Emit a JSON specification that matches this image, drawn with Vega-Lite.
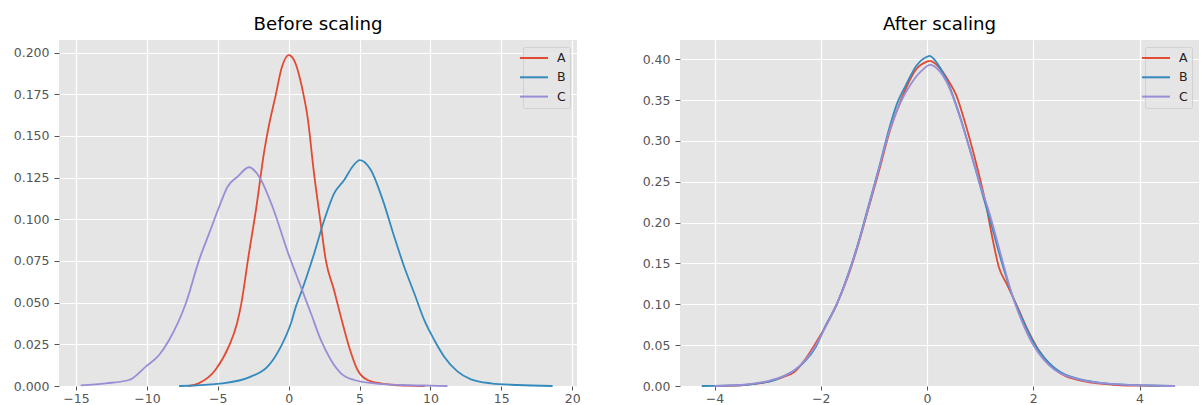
{
  "$schema": "https://vega.github.io/schema/vega-lite/v6.json",
  "padding": {"left": 13, "top": 14, "right": 0, "bottom": 0},
  "background": "white",
  "spacing": 61,
  "config": {
    "font": "DejaVu Sans",
    "view": {"fill": "#E5E5E5", "stroke": null},
    "axis": {
      "domain": false, "grid": true, "gridColor": "#FFFFFF", "gridWidth": 1.2,
      "tickColor": "#555555", "tickSize": 5, "tickWidth": 1,
      "labelColor": "#555555", "labelFontSize": 12.5, "labelPadding": 5,
      "labelFlush": false, "labelOverlap": false, "title": null
    },
    "axisX": {"tickSize": 4, "labelPadding": 2},
    "title": {"fontSize": 18.2, "fontWeight": "normal", "color": "#000000", "offset": 6},
    "legend": {
      "orient": "top-right", "offset": 7, "title": null,
      "fillColor": "rgba(229,229,229,0.8)", "strokeColor": "rgba(204,204,204,0.8)",
      "cornerRadius": 2, "padding": 4,
      "symbolType": "M-2.33,0H2.33", "symbolSize": 144, "symbolStrokeWidth": 2,
      "labelFontSize": 12.5, "labelColor": "#222222", "labelOffset": 16, "rowPadding": 5.3
    }
  },
  "datasets": {
    "before": [
      {"series": "A", "x": -7.08, "y": 0.0},
      {"series": "A", "x": -6.35, "y": 0.0016},
      {"series": "A", "x": -5.17, "y": 0.0096},
      {"series": "A", "x": -4.23, "y": 0.0236},
      {"series": "A", "x": -3.64, "y": 0.0376},
      {"series": "A", "x": -3.35, "y": 0.049},
      {"series": "A", "x": -2.82, "y": 0.0785},
      {"series": "A", "x": -2.3, "y": 0.106},
      {"series": "A", "x": -1.71, "y": 0.1415},
      {"series": "A", "x": -1.41, "y": 0.1555},
      {"series": "A", "x": -0.94, "y": 0.1734},
      {"series": "A", "x": -0.47, "y": 0.1914},
      {"series": "A", "x": 0.0, "y": 0.1984},
      {"series": "A", "x": 0.38, "y": 0.1954},
      {"series": "A", "x": 0.98, "y": 0.1775},
      {"series": "A", "x": 1.33, "y": 0.1615},
      {"series": "A", "x": 1.79, "y": 0.1275},
      {"series": "A", "x": 2.26, "y": 0.0975},
      {"series": "A", "x": 2.62, "y": 0.0755},
      {"series": "A", "x": 3.2, "y": 0.0576},
      {"series": "A", "x": 3.68, "y": 0.0416},
      {"series": "A", "x": 4.26, "y": 0.0236},
      {"series": "A", "x": 4.86, "y": 0.0096},
      {"series": "A", "x": 5.56, "y": 0.0036},
      {"series": "A", "x": 6.5, "y": 0.0016},
      {"series": "A", "x": 7.5, "y": 0.0006},
      {"series": "A", "x": 8.5, "y": 0.0002},
      {"series": "A", "x": 9.6, "y": 0.0},
      {"series": "B", "x": -7.73, "y": 0.0},
      {"series": "B", "x": -4.66, "y": 0.0016},
      {"series": "B", "x": -2.67, "y": 0.0056},
      {"series": "B", "x": -1.49, "y": 0.0116},
      {"series": "B", "x": -1.0, "y": 0.017},
      {"series": "B", "x": -0.55, "y": 0.0236},
      {"series": "B", "x": 0.16, "y": 0.0376},
      {"series": "B", "x": 0.51, "y": 0.0476},
      {"series": "B", "x": 0.86, "y": 0.0556},
      {"series": "B", "x": 1.8, "y": 0.0795},
      {"series": "B", "x": 2.51, "y": 0.0995},
      {"series": "B", "x": 3.21, "y": 0.1155},
      {"series": "B", "x": 3.92, "y": 0.1235},
      {"series": "B", "x": 4.5, "y": 0.1315},
      {"series": "B", "x": 5.02, "y": 0.1355},
      {"series": "B", "x": 5.8, "y": 0.1295},
      {"series": "B", "x": 6.6, "y": 0.1125},
      {"series": "B", "x": 7.45, "y": 0.0895},
      {"series": "B", "x": 8.15, "y": 0.0715},
      {"series": "B", "x": 8.86, "y": 0.0556},
      {"series": "B", "x": 9.56, "y": 0.0396},
      {"series": "B", "x": 10.27, "y": 0.0276},
      {"series": "B", "x": 10.97, "y": 0.0176},
      {"series": "B", "x": 11.92, "y": 0.0086},
      {"series": "B", "x": 12.86, "y": 0.004},
      {"series": "B", "x": 14.27, "y": 0.0016},
      {"series": "B", "x": 16.15, "y": 0.0006},
      {"series": "B", "x": 18.62, "y": 0.0},
      {"series": "C", "x": -14.67, "y": 0.0004},
      {"series": "C", "x": -12.9, "y": 0.0016},
      {"series": "C", "x": -11.26, "y": 0.0036},
      {"series": "C", "x": -10.08, "y": 0.0116},
      {"series": "C", "x": -9.14, "y": 0.0186},
      {"series": "C", "x": -8.43, "y": 0.0276},
      {"series": "C", "x": -7.25, "y": 0.0496},
      {"series": "C", "x": -6.32, "y": 0.0755},
      {"series": "C", "x": -5.61, "y": 0.0915},
      {"series": "C", "x": -4.9, "y": 0.1075},
      {"series": "C", "x": -4.31, "y": 0.1195},
      {"series": "C", "x": -3.61, "y": 0.1255},
      {"series": "C", "x": -2.79, "y": 0.1312},
      {"series": "C", "x": -2.08, "y": 0.1255},
      {"series": "C", "x": -1.14, "y": 0.1075},
      {"series": "C", "x": -0.05, "y": 0.08},
      {"series": "C", "x": 0.86, "y": 0.0595},
      {"series": "C", "x": 1.57, "y": 0.0436},
      {"series": "C", "x": 2.27, "y": 0.0276},
      {"series": "C", "x": 2.98, "y": 0.0156},
      {"series": "C", "x": 3.69, "y": 0.0076},
      {"series": "C", "x": 4.62, "y": 0.0036},
      {"series": "C", "x": 6.03, "y": 0.0016},
      {"series": "C", "x": 8.0, "y": 0.0006},
      {"series": "C", "x": 10.0, "y": 0.0002},
      {"series": "C", "x": 11.2, "y": 0.0}
    ],
    "after": [
      {"series": "A", "x": -3.9, "y": 0.0},
      {"series": "A", "x": -3.4, "y": 0.0015},
      {"series": "A", "x": -3.0, "y": 0.005},
      {"series": "A", "x": -2.7, "y": 0.011},
      {"series": "A", "x": -2.5, "y": 0.017},
      {"series": "A", "x": -2.3, "y": 0.032},
      {"series": "A", "x": -2.1, "y": 0.052},
      {"series": "A", "x": -1.9, "y": 0.074},
      {"series": "A", "x": -1.7, "y": 0.1},
      {"series": "A", "x": -1.5, "y": 0.132},
      {"series": "A", "x": -1.3, "y": 0.172},
      {"series": "A", "x": -1.1, "y": 0.218},
      {"series": "A", "x": -0.9, "y": 0.264},
      {"series": "A", "x": -0.7, "y": 0.312},
      {"series": "A", "x": -0.55, "y": 0.34},
      {"series": "A", "x": -0.4, "y": 0.364},
      {"series": "A", "x": -0.2, "y": 0.388},
      {"series": "A", "x": 0.0, "y": 0.397},
      {"series": "A", "x": 0.05, "y": 0.398},
      {"series": "A", "x": 0.2, "y": 0.392},
      {"series": "A", "x": 0.4, "y": 0.374},
      {"series": "A", "x": 0.55, "y": 0.356},
      {"series": "A", "x": 0.7, "y": 0.326},
      {"series": "A", "x": 0.9, "y": 0.279},
      {"series": "A", "x": 1.1, "y": 0.225},
      {"series": "A", "x": 1.25, "y": 0.175},
      {"series": "A", "x": 1.35, "y": 0.146},
      {"series": "A", "x": 1.5, "y": 0.125},
      {"series": "A", "x": 1.7, "y": 0.097},
      {"series": "A", "x": 1.9, "y": 0.068},
      {"series": "A", "x": 2.1, "y": 0.044},
      {"series": "A", "x": 2.3, "y": 0.027},
      {"series": "A", "x": 2.5, "y": 0.016},
      {"series": "A", "x": 2.8, "y": 0.008},
      {"series": "A", "x": 3.1, "y": 0.004},
      {"series": "A", "x": 3.5, "y": 0.0015},
      {"series": "A", "x": 4.0, "y": 0.0004},
      {"series": "A", "x": 4.4, "y": 0.0},
      {"series": "B", "x": -4.24, "y": 0.0},
      {"series": "B", "x": -3.8, "y": 0.0005},
      {"series": "B", "x": -3.4, "y": 0.0015},
      {"series": "B", "x": -3.1, "y": 0.004},
      {"series": "B", "x": -2.9, "y": 0.0067},
      {"series": "B", "x": -2.7, "y": 0.012},
      {"series": "B", "x": -2.5, "y": 0.019},
      {"series": "B", "x": -2.3, "y": 0.03},
      {"series": "B", "x": -2.1, "y": 0.047},
      {"series": "B", "x": -1.9, "y": 0.075},
      {"series": "B", "x": -1.7, "y": 0.1},
      {"series": "B", "x": -1.5, "y": 0.134},
      {"series": "B", "x": -1.3, "y": 0.174},
      {"series": "B", "x": -1.1, "y": 0.221},
      {"series": "B", "x": -0.9, "y": 0.268},
      {"series": "B", "x": -0.7, "y": 0.318},
      {"series": "B", "x": -0.55, "y": 0.348},
      {"series": "B", "x": -0.4, "y": 0.368},
      {"series": "B", "x": -0.2, "y": 0.392},
      {"series": "B", "x": 0.0, "y": 0.403},
      {"series": "B", "x": 0.05, "y": 0.404},
      {"series": "B", "x": 0.2, "y": 0.394},
      {"series": "B", "x": 0.4, "y": 0.37},
      {"series": "B", "x": 0.6, "y": 0.334},
      {"series": "B", "x": 0.8, "y": 0.291},
      {"series": "B", "x": 1.0, "y": 0.245},
      {"series": "B", "x": 1.2, "y": 0.2},
      {"series": "B", "x": 1.4, "y": 0.153},
      {"series": "B", "x": 1.6, "y": 0.112},
      {"series": "B", "x": 1.8, "y": 0.081},
      {"series": "B", "x": 2.0, "y": 0.054},
      {"series": "B", "x": 2.2, "y": 0.035},
      {"series": "B", "x": 2.4, "y": 0.022},
      {"series": "B", "x": 2.6, "y": 0.014},
      {"series": "B", "x": 2.8, "y": 0.0095},
      {"series": "B", "x": 3.0, "y": 0.0065},
      {"series": "B", "x": 3.3, "y": 0.0035},
      {"series": "B", "x": 3.7, "y": 0.0017},
      {"series": "B", "x": 4.2, "y": 0.0006},
      {"series": "B", "x": 4.6, "y": 0.0002},
      {"series": "C", "x": -4.0, "y": 0.0},
      {"series": "C", "x": -3.5, "y": 0.0012},
      {"series": "C", "x": -3.0, "y": 0.006},
      {"series": "C", "x": -2.7, "y": 0.012},
      {"series": "C", "x": -2.5, "y": 0.019},
      {"series": "C", "x": -2.3, "y": 0.031},
      {"series": "C", "x": -2.1, "y": 0.049},
      {"series": "C", "x": -1.9, "y": 0.074},
      {"series": "C", "x": -1.7, "y": 0.1},
      {"series": "C", "x": -1.5, "y": 0.133},
      {"series": "C", "x": -1.3, "y": 0.173},
      {"series": "C", "x": -1.1, "y": 0.219},
      {"series": "C", "x": -0.9, "y": 0.267},
      {"series": "C", "x": -0.7, "y": 0.314},
      {"series": "C", "x": -0.5, "y": 0.347},
      {"series": "C", "x": -0.3, "y": 0.37},
      {"series": "C", "x": -0.1, "y": 0.386},
      {"series": "C", "x": 0.06, "y": 0.393},
      {"series": "C", "x": 0.2, "y": 0.388},
      {"series": "C", "x": 0.4, "y": 0.368},
      {"series": "C", "x": 0.6, "y": 0.333},
      {"series": "C", "x": 0.8, "y": 0.291},
      {"series": "C", "x": 1.0, "y": 0.247},
      {"series": "C", "x": 1.2, "y": 0.206},
      {"series": "C", "x": 1.4, "y": 0.158},
      {"series": "C", "x": 1.6, "y": 0.112},
      {"series": "C", "x": 1.8, "y": 0.077},
      {"series": "C", "x": 2.0, "y": 0.05},
      {"series": "C", "x": 2.2, "y": 0.032},
      {"series": "C", "x": 2.4, "y": 0.02},
      {"series": "C", "x": 2.6, "y": 0.013},
      {"series": "C", "x": 2.8, "y": 0.009},
      {"series": "C", "x": 3.0, "y": 0.006},
      {"series": "C", "x": 3.4, "y": 0.003},
      {"series": "C", "x": 3.8, "y": 0.0014},
      {"series": "C", "x": 4.3, "y": 0.0005},
      {"series": "C", "x": 4.67, "y": 0.0}
    ]
  },
  "resolve": {"scale": {"x": "independent", "y": "independent", "color": "independent"}, "legend": {"color": "independent"}},
  "hconcat": [
    {
      "title": "Before scaling",
      "width": 518,
      "height": 346,
      "data": {"name": "before"},
      "mark": {"type": "line", "strokeWidth": 1.8, "interpolate": "monotone"},
      "encoding": {
        "x": {"field": "x", "type": "quantitative", "scale": {"domain": [-16.2, 20.34], "nice": false, "zero": false},
              "axis": {"values": [-15, -10, -5, 0, 5, 10, 15, 20], "format": "d"}},
        "y": {"field": "y", "type": "quantitative", "scale": {"domain": [0, 0.2075], "nice": false},
              "axis": {"values": [0, 0.025, 0.05, 0.075, 0.1, 0.125, 0.15, 0.175, 0.2], "format": ".3f"}},
        "color": {"field": "series", "type": "nominal",
                  "scale": {"domain": ["A", "B", "C"], "range": ["#E24A33", "#348ABD", "#988ED5"]}}
      }
    },
    {
      "title": "After scaling",
      "width": 519,
      "height": 346,
      "data": {"name": "after"},
      "mark": {"type": "line", "strokeWidth": 1.8, "interpolate": "monotone"},
      "encoding": {
        "x": {"field": "x", "type": "quantitative", "scale": {"domain": [-4.65, 5.12], "nice": false, "zero": false},
              "axis": {"values": [-4, -2, 0, 2, 4], "format": "d"}},
        "y": {"field": "y", "type": "quantitative", "scale": {"domain": [0, 0.4235], "nice": false},
              "axis": {"values": [0, 0.05, 0.1, 0.15, 0.2, 0.25, 0.3, 0.35, 0.4], "format": ".2f"}},
        "color": {"field": "series", "type": "nominal",
                  "scale": {"domain": ["A", "B", "C"], "range": ["#E24A33", "#348ABD", "#988ED5"]}}
      }
    }
  ]
}
